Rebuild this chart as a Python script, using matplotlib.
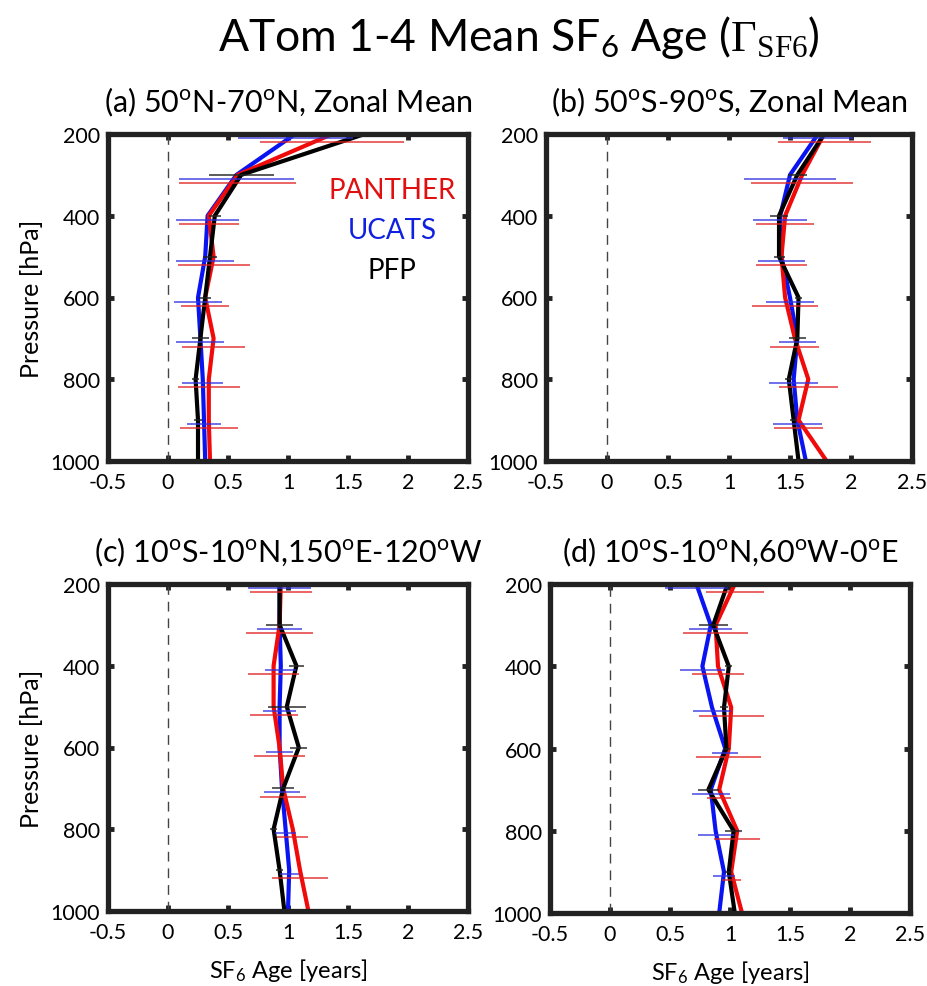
import matplotlib
matplotlib.use('Agg')
import matplotlib.pyplot as plt
import numpy as np

plt.rcParams['font.family'] = ['Lato', 'DejaVu Sans']
plt.rcParams['mathtext.fontset'] = 'custom'
plt.rcParams['mathtext.rm'] = 'Lato'
plt.rcParams['mathtext.it'] = 'Lato:italic'
plt.rcParams['mathtext.sf'] = 'Liberation Serif'

pressure = [200, 300, 400, 500, 600, 700, 800, 900, 1000]

# (a) 50N-70N
panther_a = [1.37, 0.58, 0.34, 0.38, 0.31, 0.38, 0.34, 0.34, 0.35]
ucats_a = [1.06, 0.57, 0.33, 0.31, 0.25, 0.27, 0.29, 0.30, 0.31]
pfp_a = [1.64, 0.61, 0.39, 0.35, 0.31, 0.27, 0.23, 0.25, 0.25]
panther_a_err = [0.60, 0.49, 0.25, 0.30, 0.20, 0.26, 0.26, 0.24, 0.24]
ucats_a_err = [0.48, 0.48, 0.26, 0.24, 0.20, 0.20, 0.17, 0.14, 0.14]
pfp_a_err = [0.45, 0.27, 0.05, 0.055, 0.05, 0.07, 0.03, 0.03, 0.05]

# (b) 50S-90S
panther_b = [1.78, 1.60, 1.46, 1.43, 1.46, 1.54, 1.65, 1.57, 1.80]
ucats_b = [1.73, 1.50, 1.42, 1.43, 1.50, 1.56, 1.53, 1.56, 1.63]
pfp_b = [1.78, 1.56, 1.41, 1.41, 1.57, 1.56, 1.49, 1.53, 1.57]
panther_b_err = [0.38, 0.42, 0.24, 0.21, 0.27, 0.20, 0.24, 0.20, 0.20]
ucats_b_err = [0.29, 0.38, 0.22, 0.19, 0.20, 0.15, 0.20, 0.20, 0.20]
pfp_b_err = [0.39, 0.08, 0.07, 0.045, 0.03, 0.07, 0.03, 0.03, 0.03]

# (c) 10S-10N, 150E-120W
panther_c = [0.94, 0.93, 0.88, 0.88, 0.93, 0.96, 1.04, 1.10, 1.17]
ucats_c = [0.93, 0.93, 0.94, 0.93, 0.93, 0.95, 0.98, 1.01, 1.00]
pfp_c = [0.93, 0.93, 1.07, 0.99, 1.09, 0.96, 0.88, 0.93, 0.97]
panther_c_err = [0.26, 0.28, 0.21, 0.20, 0.21, 0.19, 0.13, 0.23, 0.20]
ucats_c_err = [0.26, 0.19, 0.13, 0.14, 0.11, 0.15, 0.09, 0.08, 0.08]
pfp_c_err = [0.12, 0.11, 0.06, 0.16, 0.07, 0.09, 0.03, 0.03, 0.15]

# (d) 10S-10N, 60W-0E
panther_d = [1.04, 0.88, 0.90, 1.01, 0.99, 0.91, 1.06, 1.01, 1.10]
ucats_d = [0.72, 0.84, 0.77, 0.85, 0.96, 0.84, 0.88, 0.95, 0.91]
pfp_d = [0.98, 0.86, 0.99, 0.95, 0.97, 0.82, 1.03, 0.99, 1.04]
panther_d_err = [0.24, 0.27, 0.22, 0.27, 0.27, 0.10, 0.19, 0.08, 0.08]
ucats_d_err = [0.26, 0.18, 0.19, 0.16, 0.11, 0.16, 0.15, 0.09, 0.09]
pfp_d_err = [0.05, 0.12, 0.03, 0.03, 0.03, 0.09, 0.07, 0.03, 0.03]

titles = ['(a) 50$^{\\rm o}$N-70$^{\\rm o}$N, Zonal Mean',
          '(b) 50$^{\\rm o}$S-90$^{\\rm o}$S, Zonal Mean',
          '(c) 10$^{\\rm o}$S-10$^{\\rm o}$N,150$^{\\rm o}$E-120$^{\\rm o}$W',
          '(d) 10$^{\\rm o}$S-10$^{\\rm o}$N,60$^{\\rm o}$W-0$^{\\rm o}$E']

W, H = 927, 987
# left, right, top, bottom in pixels
boxes = [(108, 468, 135, 462), (546, 912, 135, 462),
         (108, 468, 585, 912), (550, 910, 585, 914)]

panels = [(panther_a, ucats_a, pfp_a, panther_a_err, ucats_a_err, pfp_a_err),
          (panther_b, ucats_b, pfp_b, panther_b_err, ucats_b_err, pfp_b_err),
          (panther_c, ucats_c, pfp_c, panther_c_err, ucats_c_err, pfp_c_err),
          (panther_d, ucats_d, pfp_d, panther_d_err, ucats_d_err, pfp_d_err)]

fig = plt.figure(figsize=(W / 100, H / 100), dpi=100)
p = np.array(pressure)

for i, (box, data) in enumerate(zip(boxes, panels)):
    l, r, t, b = box
    ax = fig.add_axes([l / W, 1 - b / H, (r - l) / W, (b - t) / H])
    pan, uc, pf, pan_e, uc_e, pf_e = data

    ax.axvline(0, color='#444444', lw=1, ls=(0, (7, 5)))
    ax.plot(uc, p, color='#0a14f0', lw=3)
    ax.plot(pan, p, color='#f00a0a', lw=3)
    ax.plot(pf, p, color='black', lw=3)
    ax.errorbar(uc, p + 10, xerr=uc_e, fmt='none', ecolor='#3030e0', elinewidth=1.3, alpha=0.75)
    ax.errorbar(pan, p + 20, xerr=pan_e, fmt='none', ecolor='#e02020', elinewidth=1.3, alpha=0.75)
    ax.errorbar(pf, p, xerr=pf_e, fmt='none', ecolor='#222222', elinewidth=1.3, alpha=0.8)

    ax.set_xlim(-0.5, 2.5)
    ax.set_ylim(1000, 200)
    ax.set_xticks(np.arange(-0.5, 2.51, 0.5))
    ax.set_xticklabels(['-0.5', '0', '0.5', '1', '1.5', '2', '2.5'])
    ax.set_yticks([200, 400, 600, 800, 1000])
    ax.tick_params(direction='in', length=4, width=3.5, top=True, right=True,
                   labelsize=15.5, color='#222222')
    ax.tick_params(axis='x', pad=8)
    ax.tick_params(axis='y', pad=6)
    for s in ax.spines.values():
        s.set_linewidth(3.8)
        s.set_color('#222222')
    ax.set_title(titles[i], fontsize=22, pad=16)
    if i in (0, 2):
        ax.set_ylabel('Pressure [hPa]', fontsize=18, labelpad=5)
    if i in (2, 3):
        ax.set_xlabel('SF$_6$ Age [years]', fontsize=17, labelpad=10)
    if i == 0:
        ax.text(0.79, 0.83, 'PANTHER', color='#e01010', fontsize=20, ha='center', va='center', transform=ax.transAxes)
        ax.text(0.79, 0.705, 'UCATS', color='#1020e0', fontsize=20, ha='center', va='center', transform=ax.transAxes)
        ax.text(0.79, 0.585, 'PFP', color='black', fontsize=20, ha='center', va='center', transform=ax.transAxes)

fig.text(0.56, 0.962, 'ATom 1-4 Mean SF$_6$ Age ($\\mathsf{\\Gamma_{SF6}}$)', fontsize=32,
         ha='center', va='center')

fig.savefig('out.png', dpi=100)
